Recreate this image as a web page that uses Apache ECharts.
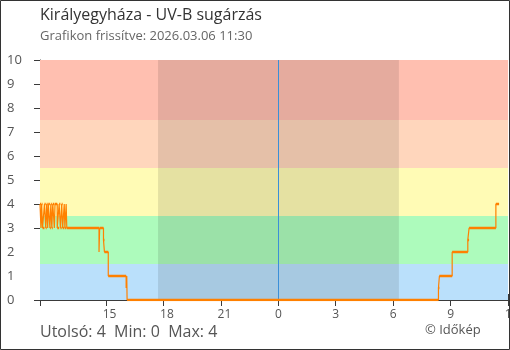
<!DOCTYPE html>
<html>
<head>
<meta charset="utf-8">
<script src="https://cdn.jsdelivr.net/npm/echarts@6/dist/echarts.min.js"></script>
<style>
html,body{margin:0;padding:0;background:#fff;}
#c{width:510px;height:350px;}
</style>
</head>
<body>
<div id="c"></div>
<script>
// ---- data ----
const stationTitle = 'Királyegyháza - UV-B sugárzás';
const updatedText = 'Grafikon frissítve: 2026.03.06 11:30';
const creditText = '© Időkép';

// measurement times (HH:MM, from 11:33 on day 1 to 11:32 on day 2)
const times = ['11:33','11:36','11:38','11:41','11:47','11:51','11:54','11:57','11:59','12:04','12:07','12:10','12:13','12:18','12:20','12:27','12:33','12:37','12:41','12:44','12:49','12:51','12:55','12:57',
  '14:38','14:40','14:52','14:55','15:07','16:03','16:05','16:06',
  '08:22','08:25','09:05','09:54','09:58','11:22','11:32'];
// UV-B values (each holds until the next time)
const uvValues = [4,3,4,3,4,3,4,3,4,3,4,3,4,3,4,3,4,3,4,3,4,3,4,3,
  2,3,2.5,2,1,0.5,1,0,
  0.5,1,2,2.5,3,4,4];

// night period (sunset / sunrise)
const nightStart = '17:43';
const nightEnd = '06:18';

// UV bands
const bandEdges = [0, 1.5, 3.5, 5.5, 7.5, 10];
const bandColors = ['#bae0fb', '#adfbbc', '#fffbb5', '#ffd6bc', '#ffbfb0'];

// axis
const axisMin = '11:33';
const axisMax = '12:00';
const xTickHours = [15, 18, 21, 0, 3, 6, 9, 12];
const yTicks = [0,1,2,3,4,5,6,7,8,9,10];

// ---- helpers ----
function hm(s) { const [h, m] = s.split(':').map(Number); return h + m / 60; }
// times run forward; add a day whenever clock time goes back
const tHours = [];
times.forEach((s, i) => {
  let v = hm(s);
  if (i > 0) { while (v < tHours[i - 1]) v += 24; }
  tHours.push(v);
});
const xMin = hm(axisMin);
const xMax = hm(axisMax) + 24;
const nightA = hm(nightStart);
const nightB = hm(nightEnd) + 24;
const tickVals = [];
xTickHours.forEach((h, i) => {
  let v = h;
  while (v < xMin || (i > 0 && v <= tickVals[i - 1])) v += 24;
  tickVals.push(v);
});

const seriesData = tHours.map((t, i) => [t, uvValues[i]]);
// horizontal parts of the step line (drawn thicker, as in the original)
const horizData = [];
for (let i = 0; i < tHours.length - 1; i++) {
  horizData.push([tHours[i], uvValues[i]], [tHours[i + 1], uvValues[i]], [tHours[i + 1], '-']);
}

const last = uvValues[uvValues.length - 1];
const minV = Math.min(...uvValues);
const maxV = Math.max(...uvValues);
const statsText = 'Utolsó: ' + last + '  Min: ' + minV + '  Max: ' + maxV;

const bandAreas = bandColors.map((c, i) => [
  { yAxis: bandEdges[i], itemStyle: { color: c } },
  { yAxis: bandEdges[i + 1] }
]);

const axisColor = '#3a3a3a';
const labelColor = '#555';
const FONT = '"Open Sans", "Noto Sans", sans-serif';

const chart = echarts.init(document.getElementById('c'), null, { renderer: 'canvas' });
chart.setOption({
  animation: false,
  textStyle: { fontFamily: FONT },
  title: [
    {
      text: stationTitle, subtext: updatedText,
      left: 40, top: 7, padding: 0, itemGap: 7,
      textStyle: { fontFamily: FONT, fontSize: 16, fontWeight: 'normal', color: '#333' },
      subtextStyle: { fontFamily: FONT, fontSize: 13, color: '#666' }
    },
    {
      text: statsText, left: 40, top: 324, padding: 0,
      textStyle: { fontFamily: FONT, fontSize: 16, fontWeight: 'normal', color: '#555' }
    },
    {
      text: creditText, left: 425, top: 324, padding: 0,
      textStyle: { fontFamily: FONT, fontSize: 13, fontWeight: 'normal', color: '#555' }
    }
  ],
  grid: { left: 40, right: 2, top: 60, bottom: 50, outerBoundsMode: 'none', containLabel: false },
  xAxis: [
    {
      type: 'value', min: xMin, max: xMax, position: 'bottom',
      axisLine: { show: true, lineStyle: { color: axisColor, width: 1 } },
      splitLine: { show: false },
      axisTick: { show: true, inside: false, length: 6, lineStyle: { color: axisColor },
        customValues: [xMin].concat(tickVals) },
      axisLabel: { show: true, color: labelColor, fontSize: 12, fontFamily: FONT, margin: 9,
        showMinLabel: true, showMaxLabel: true, hideOverlap: false,
        customValues: tickVals.filter(v => (v % 24) < 10),
        formatter: v => String(Math.round(v) % 24) }
    },
    {
      type: 'value', min: xMin, max: xMax, position: 'bottom',
      axisLine: { show: false },
      splitLine: { show: false },
      axisTick: { show: true, inside: true, length: 6, lineStyle: { color: axisColor },
        customValues: [xMin].concat(tickVals) },
      axisLabel: { show: true, color: labelColor, fontSize: 12, fontFamily: FONT, margin: 9,
        showMinLabel: true, showMaxLabel: true, hideOverlap: false,
        padding: [0, 0, 0, 7],
        customValues: tickVals.filter(v => (v % 24) >= 10),
        formatter: v => String(Math.round(v) % 24) }
    }
  ],
  yAxis: [
    {
      type: 'value', min: 0, max: 10, interval: 1, position: 'left',
      axisLine: { show: true, lineStyle: { color: axisColor, width: 1 } },
      splitLine: { show: false },
      axisTick: { show: true, inside: false, length: 6, lineStyle: { color: axisColor },
        customValues: yTicks.filter(v => v !== 1 && v !== 2) },
      axisLabel: { show: true, color: labelColor, fontSize: 13, fontFamily: FONT,
        align: 'left', margin: 33, customValues: yTicks }
    },
    {
      type: 'value', min: 0, max: 10, interval: 1, position: 'left',
      axisLine: { show: false },
      splitLine: { show: false },
      axisTick: { show: true, inside: true, length: 7, lineStyle: { color: axisColor },
        customValues: yTicks },
      axisLabel: { show: false }
    }
  ],
  series: [
    {
      name: 'bands', type: 'line', xAxisIndex: 0, yAxisIndex: 0, data: [], z: 1, silent: true,
      markArea: { silent: true, data: bandAreas }
    },
    {
      name: 'night', type: 'line', xAxisIndex: 0, yAxisIndex: 0, data: [], z: 2, silent: true,
      markArea: { silent: true, itemStyle: { color: 'rgba(0,0,0,0.1)' },
        data: [[{ xAxis: nightA }, { xAxis: nightB }]] },
      markLine: { silent: true, symbol: ['none', 'none'], label: { show: false },
        lineStyle: { color: '#3b8fd8', width: 1, type: 'solid' },
        data: [{ xAxis: 24 }] }
    },
    {
      name: 'UV-B', type: 'line', xAxisIndex: 0, yAxisIndex: 0, z: 5,
      step: 'end', showSymbol: false, symbol: 'none',
      lineStyle: { color: '#ff8000', width: 1.2 },
      data: seriesData
    },
    {
      name: 'UV-B level', type: 'line', xAxisIndex: 0, yAxisIndex: 0, z: 6,
      showSymbol: false, symbol: 'none', connectNulls: false,
      lineStyle: { color: '#ff8000', width: 2.6, cap: 'butt' },
      data: horizData
    }
  ],
  graphic: [
    { type: 'rect', silent: true, z: 100,
      shape: { x: 0.5, y: 0.5, width: 509, height: 349 },
      style: { fill: 'none', stroke: '#333', lineWidth: 1 } }
  ]
});
</script>
</body>
</html>
